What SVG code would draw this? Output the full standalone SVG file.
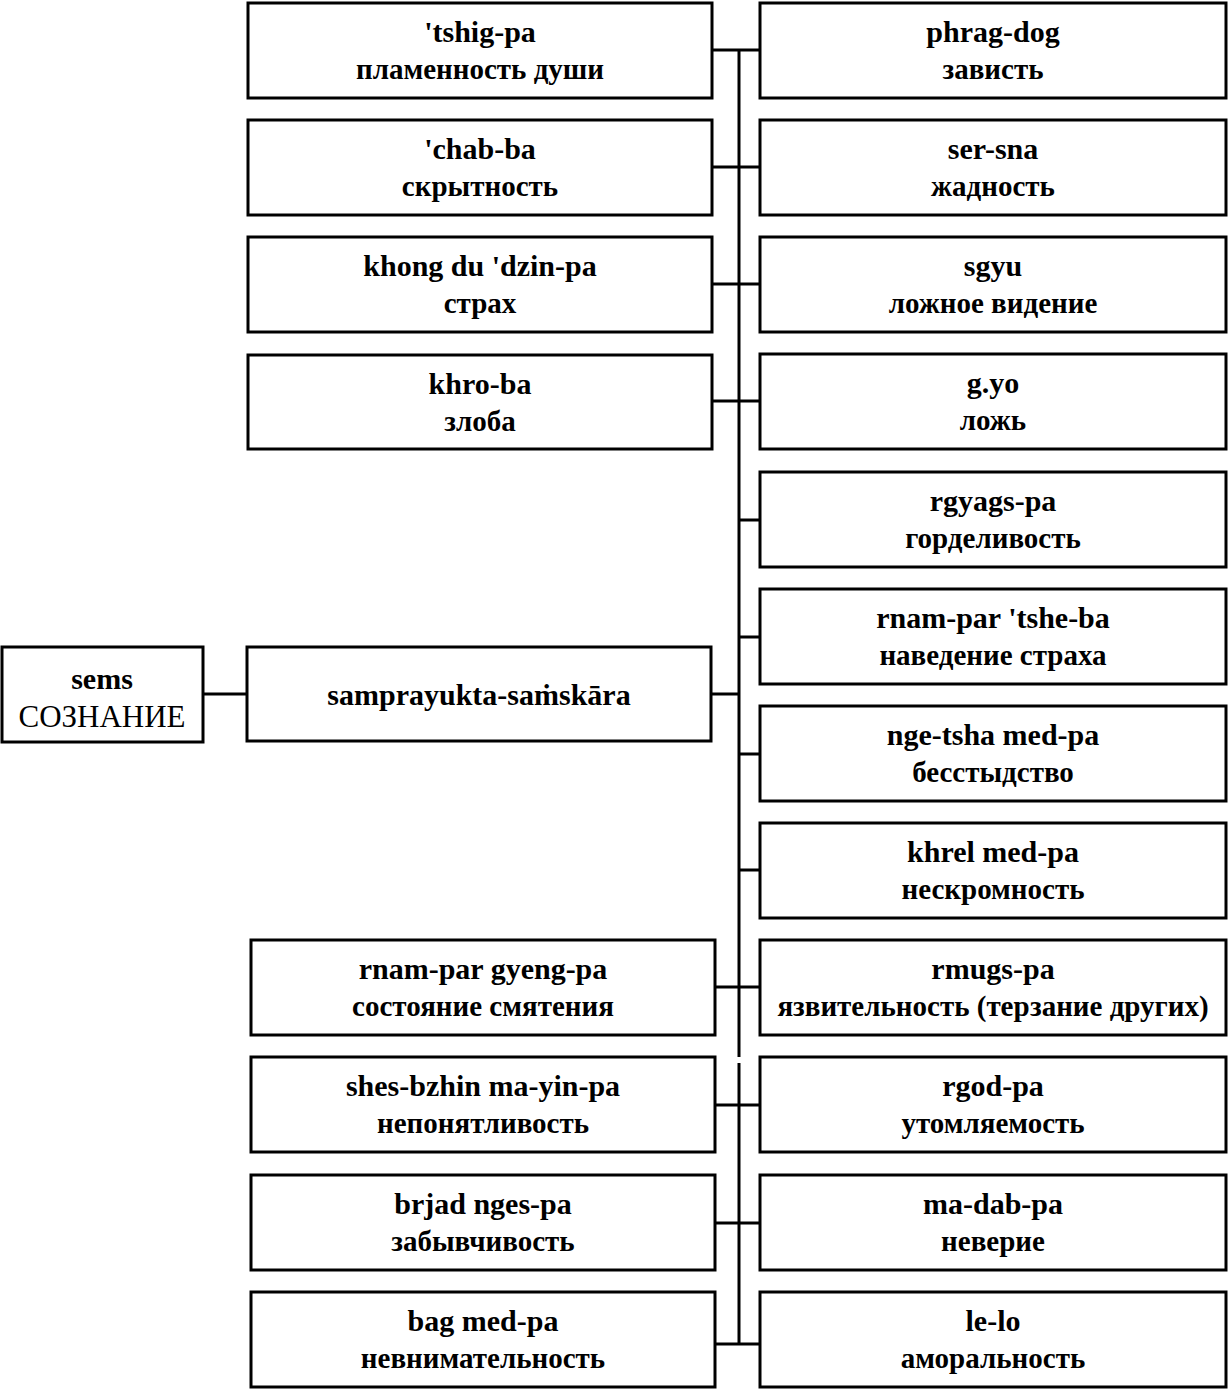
<svg xmlns="http://www.w3.org/2000/svg" width="1228" height="1390" viewBox="0 0 1228 1390">
<style>
rect{fill:#fff;stroke:#000;stroke-width:3}
.c{stroke:#000;stroke-width:3;fill:none}
text{font-family:"Liberation Serif","Times New Roman",serif;font-weight:bold;font-size:29px;text-anchor:middle;fill:#000}
.t{font-size:30px}
.big{font-size:31px;font-weight:normal}
</style>
<rect width="1228" height="1390" style="fill:#fff;stroke:none"/>
<g id="connectors">
<path class="c" d="M739,50 V1057 M739,1063 V1344"/>
<path class="c" d="M203,694 H247 M711,694 H739"/>
<path class="c" d="M712,50 H760 M712,167 H760 M712,284 H760 M712,401 H760"/>
<path class="c" d="M739,520 H760 M739,637 H760 M739,754 H760 M739,870 H760"/>
<path class="c" d="M715,987 H760 M715,1105 H760 M715,1223 H760 M715,1344 H760"/>
</g>
<g id="sems"><rect x="2" y="647" width="201" height="95"/><text class="t" x="102" y="689">sems</text><text class="big" x="102" y="727">СОЗНАНИЕ</text></g>
<g id="samprayukta"><rect x="247" y="647" width="464" height="94"/><text class="t" x="479" y="705">samprayukta-saṁskāra</text></g>
<g id="l1"><rect x="248" y="3" width="464" height="95"/><text class="t" x="480" y="42">'tshig-pa</text><text x="480" y="79">пламенность души</text></g>
<g id="l2"><rect x="248" y="120" width="464" height="95"/><text class="t" x="480" y="159">'chab-ba</text><text x="480" y="196">скрытность</text></g>
<g id="l3"><rect x="248" y="237" width="464" height="95"/><text class="t" x="480" y="276">khong du 'dzin-pa</text><text x="480" y="313">страх</text></g>
<g id="l4"><rect x="248" y="355" width="464" height="94"/><text class="t" x="480" y="394">khro-ba</text><text x="480" y="431">злоба</text></g>
<g id="l5"><rect x="251" y="940" width="464" height="95"/><text class="t" x="483" y="979">rnam-par gyeng-pa</text><text x="483" y="1016">состояние смятения</text></g>
<g id="l6"><rect x="251" y="1057" width="464" height="95"/><text class="t" x="483" y="1096">shes-bzhin ma-yin-pa</text><text x="483" y="1133">непонятливость</text></g>
<g id="l7"><rect x="251" y="1175" width="464" height="95"/><text class="t" x="483" y="1214">brjad nges-pa</text><text x="483" y="1251">забывчивость</text></g>
<g id="l8"><rect x="251" y="1292" width="464" height="95"/><text class="t" x="483" y="1331">bag med-pa</text><text x="483" y="1368">невнимательность</text></g>
<g id="r1"><rect x="760" y="3" width="466" height="95"/><text class="t" x="993" y="42">phrag-dog</text><text x="993" y="79">зависть</text></g>
<g id="r2"><rect x="760" y="120" width="466" height="95"/><text class="t" x="993" y="159">ser-sna</text><text x="993" y="196">жадность</text></g>
<g id="r3"><rect x="760" y="237" width="466" height="95"/><text class="t" x="993" y="276">sgyu</text><text x="993" y="313">ложное видение</text></g>
<g id="r4"><rect x="760" y="354" width="466" height="95"/><text class="t" x="993" y="393">g.yo</text><text x="993" y="430">ложь</text></g>
<g id="r5"><rect x="760" y="472" width="466" height="95"/><text class="t" x="993" y="511">rgyags-pa</text><text x="993" y="548">горделивость</text></g>
<g id="r6"><rect x="760" y="589" width="466" height="95"/><text class="t" x="993" y="628">rnam-par 'tshe-ba</text><text x="993" y="665">наведение страха</text></g>
<g id="r7"><rect x="760" y="706" width="466" height="95"/><text class="t" x="993" y="745">nge-tsha med-pa</text><text x="993" y="782">бесстыдство</text></g>
<g id="r8"><rect x="760" y="823" width="466" height="95"/><text class="t" x="993" y="862">khrel med-pa</text><text x="993" y="899">нескромность</text></g>
<g id="r9"><rect x="760" y="940" width="466" height="95"/><text class="t" x="993" y="979">rmugs-pa</text><text x="993" y="1016">язвительность (терзание других)</text></g>
<g id="r10"><rect x="760" y="1057" width="466" height="95"/><text class="t" x="993" y="1096">rgod-pa</text><text x="993" y="1133">утомляемость</text></g>
<g id="r11"><rect x="760" y="1175" width="466" height="95"/><text class="t" x="993" y="1214">ma-dab-pa</text><text x="993" y="1251">неверие</text></g>
<g id="r12"><rect x="760" y="1292" width="466" height="95"/><text class="t" x="993" y="1331">le-lo</text><text x="993" y="1368">аморальность</text></g>
</svg>
